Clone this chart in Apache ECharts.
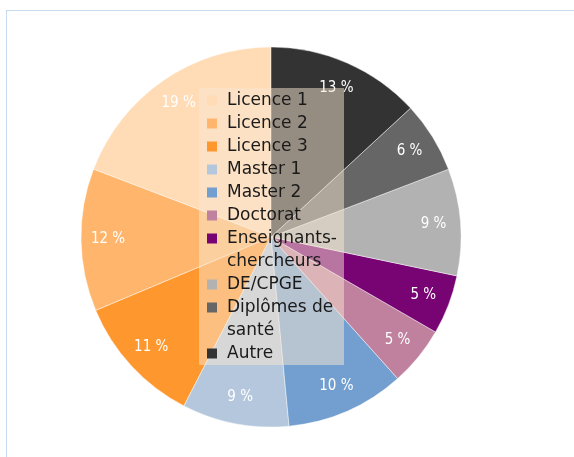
<!DOCTYPE html>
<html>
<head>
<meta charset="utf-8">
<title>Répartition</title>
<script src="https://cdn.jsdelivr.net/npm/echarts@6/dist/echarts.min.js"></script>
<style>
  html, body { margin: 0; padding: 0; background: #fff; }
  #frame { position: absolute; left: 6px; top: 10px; width: 580px; height: 460px; border-left: 1px solid #c6daf0; border-top: 1px solid #c6daf0; }
  #chart { position: absolute; left: 0; top: 0; width: 574px; height: 457px; }
</style>
</head>
<body>
<div id="frame"></div>
<div id="chart"></div>
<script>
const categories = ['Licence 1', 'Licence 2', 'Licence 3', 'Master 1', 'Master 2', 'Doctorat', 'Enseignants-chercheurs', 'DE/CPGE', 'Diplômes de santé', 'Autre']
const legendLabels = ['Licence 1', 'Licence 2', 'Licence 3', 'Master 1', 'Master 2', 'Doctorat', 'Enseignants-\nchercheurs', 'DE/CPGE', 'Diplômes de\nsanté', 'Autre']
const values = [19, 12, 11, 9, 10, 5, 5, 9, 6, 13]
const colors = ['#ffdbb6', '#ffb66c', '#ff972f', '#b4c7dc', '#729fcf', '#bf819e', '#780373', '#b2b2b2', '#666666', '#333333']

const pieData = categories.map((name, i) => ({ name: name, value: values[i] }))

// carrés de légende en texte riche (pour aligner sur la 1re ligne)
const rich = {
  gap: { width: 10, height: 10, lineHeight: 23 },
  txt: { fontFamily: 'DejaVu Sans', fontSize: 17, lineHeight: 23, color: '#1a1a1a', padding: [0, 0, 0, 10], width: 115 }
}
colors.forEach((c, i) => {
  rich['c' + i] = { width: 10, height: 10, lineHeight: 23, backgroundColor: c }
})

const option = {
  animation: false,
  backgroundColor: 'transparent',
  legend: {
    orient: 'vertical',
    left: 199,
    top: 88,
    padding: [1, 2, 0, 2],
    itemGap: 0,
    itemWidth: 0,
    itemHeight: 0,
    itemStyle: { opacity: 0 },
    selectedMode: false,
    backgroundColor: 'rgba(250, 232, 210, 0.5)',
    data: categories,
    formatter(name) {
      const i = categories.indexOf(name)
      return legendLabels[i].split('\n')
        .map((t, k) => (k === 0 ? '{c' + i + '|}' : '{gap|}') + '{txt|' + t + '}')
        .join('\n')
    },
    textStyle: { fontFamily: 'DejaVu Sans', fontSize: 17, lineHeight: 23, rich: rich }
  },
  series: [
    {
      type: 'pie',
      center: [271, 237],
      radius: 190,
      startAngle: 90,
      clockwise: false,
      color: colors,
      data: pieData,
      label: { show: false },
      labelLine: { show: false },
      itemStyle: { borderColor: 'rgba(255,255,255,0.45)', borderWidth: 1 },
      emphasis: { disabled: true }
    },
    {
      // série transparente pour placer les étiquettes vers le bord
      type: 'pie',
      center: [271, 237],
      radius: [130, 190],
      startAngle: 90,
      clockwise: false,
      silent: true,
      data: pieData,
      itemStyle: { color: 'transparent' },
      labelLine: { show: false },
      label: {
        show: true,
        position: 'inside',
        formatter: '{c} %',
        color: '#fff',
        fontFamily: 'DejaVu Sans Condensed',
        fontSize: 15,
        textShadowColor: 'rgba(0,0,0,0.8)',
        textShadowOffsetX: 1,
        textShadowOffsetY: 1,
        textShadowBlur: 0
      },
      emphasis: { disabled: true }
    }
  ]
}

const chart = echarts.init(document.getElementById('chart'))
chart.setOption(option)
</script>
</body>
</html>
